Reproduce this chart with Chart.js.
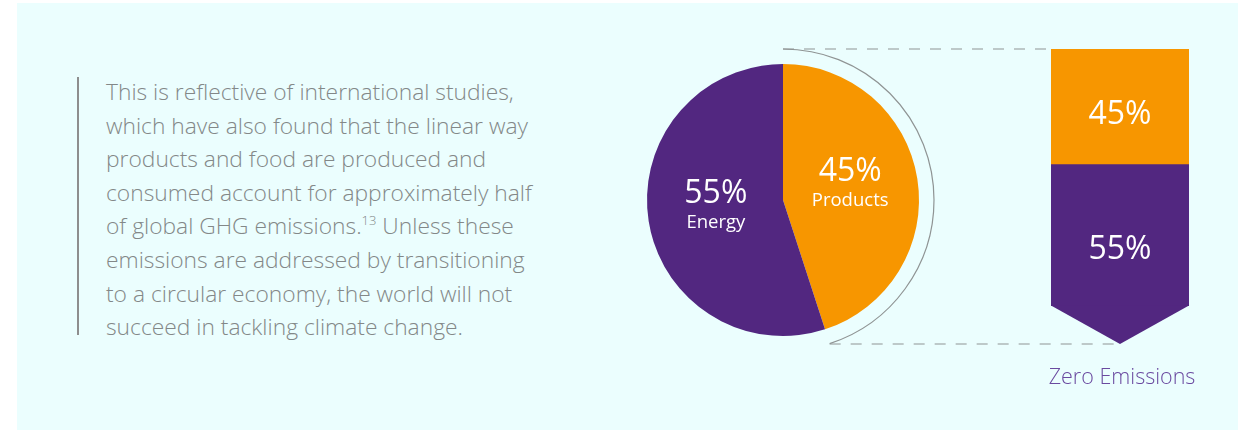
<!DOCTYPE html>
<html>
<head>
<meta charset="utf-8">
<script src="https://cdn.jsdelivr.net/npm/chart.js@4"></script>
<style>
  body { margin: 0; background: #fff; width: 1238px; height: 430px; overflow: hidden; font-family: "Open Sans", sans-serif; }
  #panel { position: absolute; left: 17px; top: 3px; width: 1221px; height: 427px; background: #ebfefe; }
  #rule { position: absolute; left: 77px; top: 77px; width: 2px; height: 258px; background: #8e8e8e; }
  #quote { position: absolute; left: 106px; top: 75px; font-size: 22.8px; font-weight: 300; line-height: 33.6px; color: #838888; white-space: nowrap; }
  #quote sup { font-size: 13px; line-height: 0; vertical-align: 9px; }
  canvas { position: absolute; left: 600px; top: 0; }
</style>
</head>
<body>
<div id="panel"></div>
<div id="rule"></div>
<div id="quote">This is reflective of international studies,<br>which have also found that the linear way<br>products and food are produced and<br>consumed account for approximately half<br>of global GHG emissions.<sup>13</sup> Unless these<br>emissions are addressed by transitioning<br>to a circular economy, the world will not<br>succeed in tackling climate change.</div>
<canvas id="pieChart" width="638" height="430"></canvas>
<canvas id="barChart" width="638" height="430"></canvas>
<script>
const sliceLabels = ['Products', 'Energy'];
const sliceValues = [45, 55];
const sliceColors = ['#f79600', '#522780'];
const barCategory = ['Zero Emissions'];

const lineGray = '#8f9494';
const font = '"Open Sans", sans-serif';

// percent + name inside each slice, plus the thin arc hugging the Products slice
const pieDecor = {
    id: 'pieDecor',
    afterDraw(chart) {
        const ctx = chart.ctx;
        const arcs = chart.getDatasetMeta(0).data;
        ctx.save();
        ctx.fillStyle = '#fff';
        ctx.textAlign = 'center';
        ctx.textBaseline = 'alphabetic';
        arcs.forEach((a, i) => {
            const mid = (a.startAngle + a.endAngle) / 2;
            const r = a.outerRadius / 2;
            const x = a.x + r * Math.cos(mid);
            const y = a.y + r * Math.sin(mid);
            ctx.font = '32px ' + font;
            ctx.fillText(sliceValues[i] + '%', x, y - 8);
            ctx.font = '18.5px ' + font;
            ctx.fillText(sliceLabels[i], x, y + 17);
        });
        const p = arcs[0];
        ctx.beginPath();
        ctx.arc(p.x, p.y, p.outerRadius + 15, p.startAngle, p.endAngle);
        ctx.strokeStyle = lineGray;
        ctx.lineWidth = 1.2;
        ctx.stroke();
        ctx.restore();
    }
};

const pieChart = new Chart(document.getElementById('pieChart'), {
    type: 'pie',
    data: {
        labels: sliceLabels,
        datasets: [{
            data: sliceValues,
            backgroundColor: sliceColors,
            borderWidth: 0
        }]
    },
    options: {
        responsive: false,
        animation: false,
        events: [],
        layout: { padding: { left: 47, top: 64, right: 319, bottom: 94 } },
        plugins: { legend: { display: false }, tooltip: { enabled: false } }
    },
    plugins: [pieDecor]
});

const tip = 38;

// arrow point, value labels, category caption and the dashed links to the pie
const barDecor = {
    id: 'barDecor',
    afterDatasetsDraw(chart) {
        const ctx = chart.ctx;
        const bottom = chart.getDatasetMeta(0).data[0];
        const half = bottom.width / 2;
        ctx.save();
        ctx.fillStyle = sliceColors[1];
        ctx.beginPath();
        ctx.moveTo(bottom.x - half, bottom.base - 0.5);
        ctx.lineTo(bottom.x + half, bottom.base - 0.5);
        ctx.lineTo(bottom.x, bottom.base + tip);
        ctx.closePath();
        ctx.fill();

        ctx.fillStyle = '#fff';
        ctx.textAlign = 'center';
        ctx.textBaseline = 'middle';
        ctx.font = '32px ' + font;
        chart.data.datasets.forEach((ds, i) => {
            const el = chart.getDatasetMeta(i).data[0];
            const extra = i === 0 ? tip * 0.17 : 0;
            ctx.fillText(ds.data[0] + '%', el.x, (el.y + el.base) / 2 + extra + 8);
        });

        ctx.fillStyle = '#6a4aa0';
        ctx.font = '300 21.5px ' + font;
        ctx.fillText(barCategory[0], bottom.x + 2, bottom.base + tip + 34);

        const top = chart.getDatasetMeta(1).data[0];
        const p = pieChart.getDatasetMeta(0).data[0];
        const R = p.outerRadius + 15;
        ctx.strokeStyle = lineGray;
        ctx.lineWidth = 1.2;
        ctx.setLineDash([11, 10]);
        ctx.beginPath();
        ctx.moveTo(p.x, top.y);
        ctx.lineTo(top.x - half, top.y);
        const ex = p.x + R * Math.cos(p.endAngle);
        ctx.moveTo(ex, bottom.base + tip);
        ctx.lineTo(bottom.x, bottom.base + tip);
        ctx.stroke();
        ctx.restore();
    }
};

new Chart(document.getElementById('barChart'), {
    type: 'bar',
    data: {
        labels: barCategory,
        datasets: [
            { label: sliceLabels[1], data: [sliceValues[1]], backgroundColor: sliceColors[1], borderWidth: 0 },
            { label: sliceLabels[0], data: [sliceValues[0]], backgroundColor: sliceColors[0], borderWidth: 0 }
        ]
    },
    options: {
        responsive: false,
        animation: false,
        events: [],
        barPercentage: 1,
        categoryPercentage: 1,
        layout: { padding: { left: 451, top: 49, right: 49, bottom: 124 } },
        scales: {
            x: { stacked: true, display: false },
            y: { stacked: true, display: false, min: 0, max: 100 }
        },
        plugins: { legend: { display: false }, tooltip: { enabled: false } }
    },
    plugins: [barDecor]
});
</script>
</body>
</html>
